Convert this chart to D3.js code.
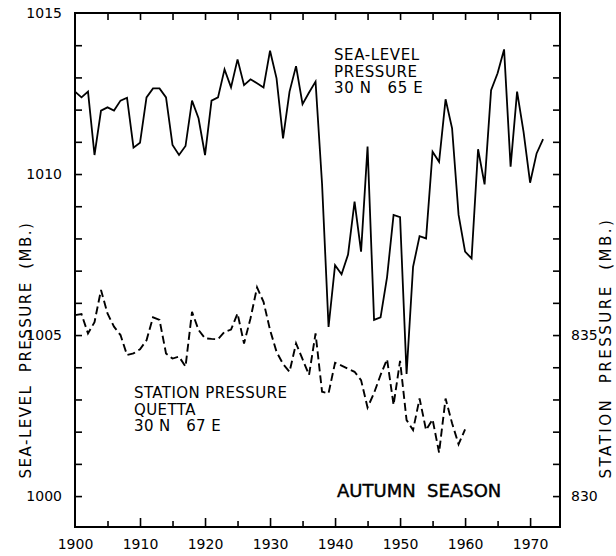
<!DOCTYPE html>
<html>
<head>
<meta charset="utf-8">
<script src="https://cdn.jsdelivr.net/npm/d3@7"></script>
<style>
  html, body { margin: 0; padding: 0; background: #fff; }
  svg { display: block; }
  text { font-family: "DejaVu Sans", sans-serif; fill: #000; white-space: pre; }
</style>
</head>
<body>
<svg id="chart" width="616" height="556"></svg>
<script>
// ---------------- data ----------------
const seaYears = d3.range(1900, 1973);
const seaLevel = [
  1012.56, 1012.38, 1012.56, 1010.59, 1011.97, 1012.07, 1011.97, 1012.28, 1012.37, 1010.82,
  1010.97, 1012.38, 1012.66, 1012.66, 1012.38, 1010.90, 1010.59, 1010.87, 1012.28, 1011.73,
  1010.59, 1012.28, 1012.38, 1013.25, 1012.69, 1013.56, 1012.76, 1012.94, 1012.82, 1012.69,
  1013.83, 1012.97, 1011.11, 1012.56, 1013.35, 1012.17, 1012.53, 1012.87, 1009.70, 1005.25,
  1007.17, 1006.89, 1007.50, 1009.14, 1007.59, 1010.85, 1005.47, 1005.55, 1006.80, 1008.73,
  1008.66, 1003.79, 1007.12, 1008.07, 1008.00, 1010.69, 1010.38, 1012.32, 1011.42, 1008.73,
  1007.59, 1007.38, 1010.77, 1009.68, 1012.60, 1013.13, 1013.87, 1010.23, 1012.56, 1011.30,
  1009.73, 1010.64, 1011.08
];
const stationYears = d3.range(1900, 1961);
const stationQuetta = [
  835.62, 835.65, 835.05, 835.40, 836.40, 835.67, 835.26, 835.00, 834.38, 834.43,
  834.56, 834.84, 835.55, 835.47, 834.43, 834.27, 834.33, 834.02, 835.72, 835.16,
  834.90, 834.88, 834.87, 835.10, 835.17, 835.67, 834.74, 835.52, 836.48, 836.03,
  835.16, 834.48, 834.10, 833.86, 834.74, 834.25, 833.76, 835.05, 833.24, 833.19,
  834.14, 834.05, 833.95, 833.86, 833.60, 832.75, 833.20, 833.76, 834.25, 832.83,
  834.20, 832.36, 832.05, 833.03, 832.05, 832.38, 831.35, 833.03, 832.26, 831.61,
  832.07
];
const xTickLabels = [1900, 1910, 1920, 1930, 1940, 1950, 1960, 1970];
const leftTickLabels = [1000, 1005, 1010, 1015];
const rightTickLabels = [830, 835];

// ---------------- layout ----------------
const svg = d3.select("#chart");
const L = 75, R = 560, T = 13, B = 527;

const x = d3.scaleLinear().domain([1900, 1974.6]).range([L, R]);
const ySea = d3.scaleLinear().domain([999.04, 1015]).range([B, T]);
const ySta = d3.scaleLinear().domain([829.04, 845]).range([B, T]);

const minorX = d3.range(1905, 1975, 5).filter(v => v % 10 !== 0);
const majorX = d3.range(1910, 1975, 10);

function clean(g) {
  g.select(".domain").remove();
  g.selectAll(".tick line").attr("stroke", "#000").attr("stroke-width", 1.6);
  g.selectAll("text").attr("fill", "#000").style("font-family", '"DejaVu Sans", sans-serif');
}

// bottom ticks (inward)
svg.append("g").attr("transform", `translate(0,${B})`)
  .call(d3.axisBottom(x).tickValues(minorX).tickSizeInner(-6).tickSizeOuter(0).tickFormat(""))
  .call(clean);
svg.append("g").attr("transform", `translate(0,${B})`)
  .call(d3.axisBottom(x).tickValues(majorX).tickSizeInner(-9).tickSizeOuter(0).tickFormat(""))
  .call(clean);
// bottom labels
svg.append("g").attr("transform", `translate(0,${B})`)
  .call(d3.axisBottom(x).tickValues(xTickLabels).tickSize(0).tickPadding(12).tickFormat(d3.format("d")))
  .call(clean)
  .call(g => g.selectAll("text").style("font-size", "14px"));

// top ticks (inward)
svg.append("g").attr("transform", `translate(0,${T})`)
  .call(d3.axisTop(x).tickValues(d3.range(1905, 1975, 5)).tickSizeInner(-7).tickSizeOuter(0).tickFormat(""))
  .call(clean);

// left ticks (inward)
svg.append("g").attr("transform", `translate(${L},0)`)
  .call(d3.axisLeft(ySea).tickValues(d3.range(1000, 1015)).tickSizeInner(-7).tickSizeOuter(0).tickFormat(""))
  .call(clean);
svg.append("g").attr("transform", `translate(${L},0)`)
  .call(d3.axisLeft(ySea).tickValues(leftTickLabels).tickSize(0).tickPadding(13).tickFormat(d3.format("d")))
  .call(clean)
  .call(g => g.selectAll("text").style("font-size", "14px"));

// right ticks (inward)
svg.append("g").attr("transform", `translate(${R},0)`)
  .call(d3.axisRight(ySta).tickValues(d3.range(830, 845)).tickSizeInner(-7).tickSizeOuter(0).tickFormat(""))
  .call(clean);
svg.append("g").attr("transform", `translate(${R},0)`)
  .call(d3.axisRight(ySta).tickValues(rightTickLabels).tickSize(0).tickPadding(11).tickFormat(d3.format("d")))
  .call(clean)
  .call(g => g.selectAll("text").style("font-size", "14px"));

// frame
svg.append("rect")
  .attr("x", L).attr("y", T).attr("width", R - L).attr("height", B - T)
  .attr("fill", "none").attr("stroke", "#000").attr("stroke-width", 2);

// lines
const seaLine = d3.line().x((d, i) => x(seaYears[i])).y(d => ySea(d));
svg.append("path").datum(seaLevel)
  .attr("d", seaLine)
  .attr("fill", "none").attr("stroke", "#000").attr("stroke-width", 1.8)
  .attr("stroke-linejoin", "miter");

const staLine = d3.line().x((d, i) => x(stationYears[i])).y(d => ySta(d));
svg.append("path").datum(stationQuetta)
  .attr("d", staLine)
  .attr("fill", "none").attr("stroke", "#000").attr("stroke-width", 1.9)
  .attr("stroke-dasharray", "8,4");

// annotations
function block(x0, y0, lines, size, spacing, ls) {
  const t = svg.append("text").attr("x", x0).attr("y", y0)
    .style("font-size", size + "px").style("letter-spacing", ls + "px");
  lines.forEach((s, i) => {
    t.append("tspan").attr("x", x0).attr("dy", i === 0 ? 0 : spacing).text(s);
  });
}
block(334, 60, ["SEA-LEVEL", "PRESSURE", "30 N   65 E"], 15, 16.5, 0.6);
block(134, 398, ["STATION PRESSURE", "QUETTA", "30 N   67 E"], 15, 16.5, 0.4);

svg.append("text").attr("x", 337).attr("y", 497)
  .style("font-size", "18px").attr("stroke", "#000").attr("stroke-width", 0.4)
  .text("AUTUMN  SEASON");

// axis titles
svg.append("text")
  .attr("transform", "translate(31,350) rotate(-90)")
  .attr("text-anchor", "middle")
  .style("font-size", "15px").style("letter-spacing", "1.5px")
  .text("SEA-LEVEL  PRESSURE  (MB.)");

svg.append("text")
  .attr("transform", "translate(611,348) rotate(-90)")
  .attr("text-anchor", "middle")
  .style("font-size", "15px").style("letter-spacing", "2.5px")
  .text("STATION  PRESSURE  (MB.)");
</script>
</body>
</html>
